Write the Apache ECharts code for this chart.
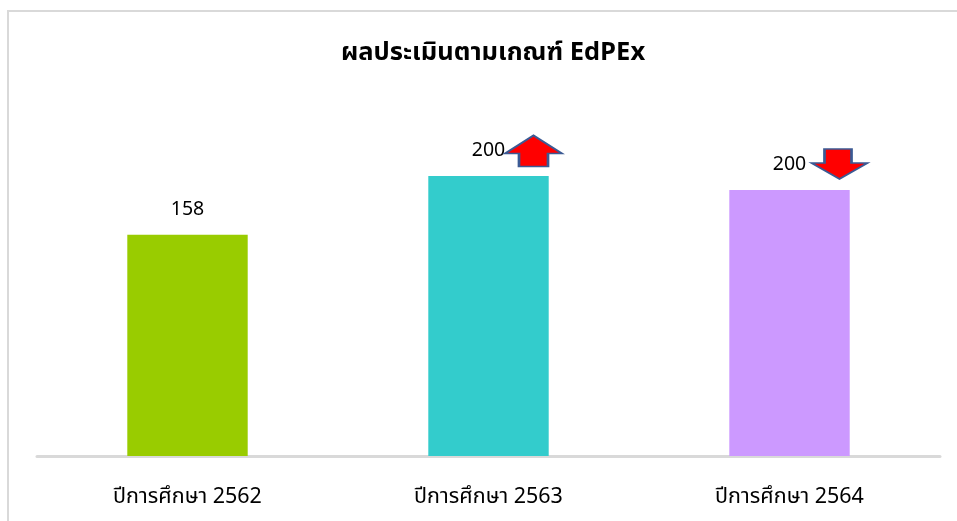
<!DOCTYPE html>
<html>
<head>
<meta charset="utf-8">
<script src="https://cdn.jsdelivr.net/npm/echarts@6/dist/echarts.min.js"></script>
<style>
  html, body { margin: 0; padding: 0; background: #fff; }
  #frame {
    position: absolute; left: 7px; top: 10px; width: 950px; height: 511px;
    border-left: 2px solid #d9d9d9; border-top: 2px solid #d9d9d9; box-sizing: border-box;
  }
  #main { position: absolute; left: 0; top: 0; width: 957px; height: 521px; }
</style>
</head>
<body>
<div id="frame"></div>
<div id="main"></div>
<script>
// ข้อมูล
var years = ['ปีการศึกษา 2562', 'ปีการศึกษา 2563', 'ปีการศึกษา 2564'];
var scores = [158, 200, 190];
var scoreLabels = ['158', '200', '200'];
var barColors = ['#99cc00', '#33cccc', '#cc99ff'];

var thaiFont = '"Noto Sans Thai", "Noto Sans Thai UI", Tahoma, "Noto Sans", sans-serif';

var upArrow = 'path://M0,18 L28.5,0 L57,18 L43,18 L43,31 L14,31 L14,18 Z';
var downArrow = 'path://M13,0 L40,0 L40,14 L56,14 L28,30 L0,14 L13,14 Z';

var chartDom = document.getElementById('main');
var myChart = echarts.init(chartDom);
var option;

option = {
  animation: false,
  title: {
    text: 'ผลประเมินตามเกณฑ์ EdPEx',
    left: 488,
    top: 37,
    textAlign: 'center',
    textStyle: {
      fontFamily: thaiFont,
      fontSize: 25.5,
      fontWeight: 'bold',
      color: '#000'
    }
  },
  grid: {
    left: 37,
    right: 17,
    top: 106,
    bottom: 65
  },
  xAxis: {
    type: 'category',
    data: years,
    axisTick: { show: false },
    axisLine: { lineStyle: { color: '#d9d9d9', width: 3 } },
    axisLabel: {
      margin: 32,
      fontFamily: thaiFont,
      fontSize: 21.5,
      color: '#000'
    }
  },
  yAxis: {
    type: 'value',
    min: 0,
    max: 250,
    show: false,
    splitLine: { show: false }
  },
  series: [
    {
      type: 'bar',
      barWidth: '40%',
      data: scores.map(function (v, i) {
        return { value: v, itemStyle: { color: barColors[i] } };
      }),
      label: {
        show: true,
        position: 'top',
        distance: 14,
        fontFamily: thaiFont,
        fontSize: 19.5,
        color: '#000',
        formatter: function (p) { return scoreLabels[p.dataIndex]; }
      },
      markPoint: {
        silent: true,
        label: { show: false },
        itemStyle: { color: '#ff0000', borderColor: '#3b5a94', borderWidth: 2 },
        data: [
          { coord: [years[1], scores[1]], symbol: upArrow, symbolSize: [57, 31], symbolOffset: [45, -25] },
          { coord: [years[2], scores[2]], symbol: downArrow, symbolSize: [56, 30], symbolOffset: [50, -26] }
        ]
      }
    }
  ]
};

option && myChart.setOption(option);
</script>
</body>
</html>
